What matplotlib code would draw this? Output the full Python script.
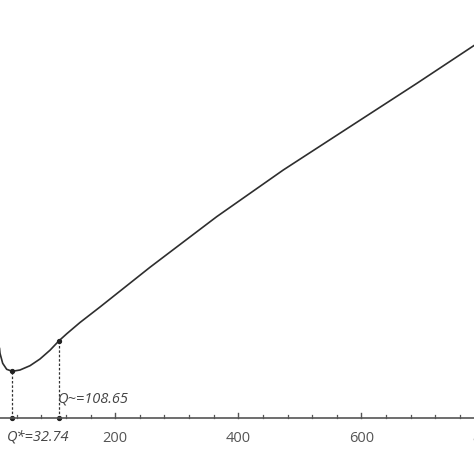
import matplotlib
matplotlib.use("Agg")
import matplotlib.pyplot as plt

# Data (cost curve vs order quantity Q)
q_values = [12.0, 12.84, 17.2, 23.7, 32.74, 45.3, 61.6, 77.8, 94.1, 108.65,
            121.2, 142.8, 175.3, 256.5, 364.9, 473.1, 581.5, 689.8, 781.8, 800.0]
cost_values = [70.0, 64.7, 54.7, 48.7, 46.7, 48.0, 52.3, 59.0, 67.8, 77.2,
               84.2, 95.5, 111.0, 150.7, 201.3, 248.0, 291.3, 334.5, 372.0, 379.5]
q_star = 32.74
q_star_cost = 46.7
q_tilde = 108.65
q_tilde_cost = 77.2
major_ticks = [200, 400, 600, 800]
minor_ticks = [t for t in range(40, 800, 40) if t % 200]

fig = plt.figure(figsize=(4.74, 4.74), dpi=100)
ax = fig.add_axes([0, 0, 1, 1])
ax.set_xlim(12.84, 783)
ax.set_ylim(-56, 418)
ax.set_axis_off()

ax.plot(q_values, cost_values, color="#2e2e2e", lw=1.2,
        solid_capstyle="round", solid_joinstyle="round")

# dashed drop lines with dots
for q, c in [(q_star, q_star_cost), (q_tilde, q_tilde_cost)]:
    ax.plot([q, q], [0, c], color="#333333", lw=0.9, ls=(0, (2, 1.5)))
    ax.plot([q, q], [c, 0], 'o', color="#222222", ms=2.8)

# x axis line with inward (upward) ticks
ax.axhline(0, color="#555555", lw=1.2)
for t in major_ticks:
    ax.plot([t, t], [0, 5.5], color="#555555", lw=1.0)
    ax.text(t, -20, str(t), ha="center", va="center", fontsize=10.5,
            color="#555555", family="Open Sans")
for t in minor_ticks:
    ax.plot([t, t], [0, 3.5], color="#555555", lw=0.9)

ax.text(q_star + 42, -20, "Q*=32.74", ha="center", va="center", fontsize=10.5,
        color="#444444", style="italic", family="Open Sans")
ax.text(q_tilde - 2, 19, "Q~=108.65", ha="left", va="center", fontsize=10.5,
        color="#444444", style="italic", family="Open Sans")

fig.savefig("out.png", dpi=100)
